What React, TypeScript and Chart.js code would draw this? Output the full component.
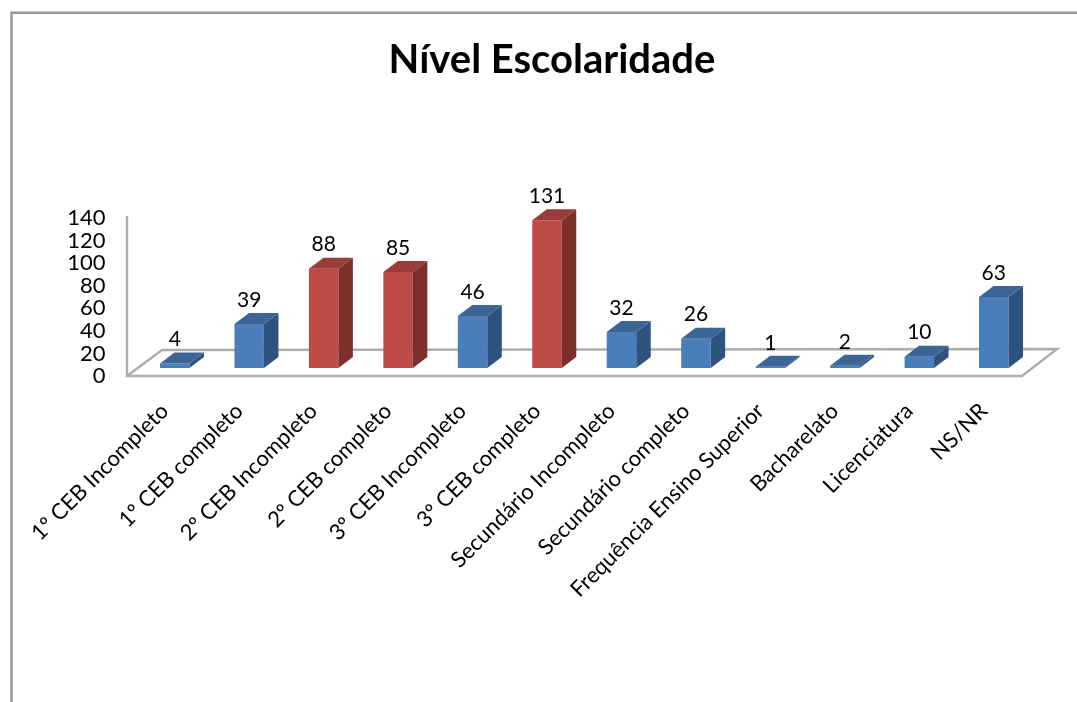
import React, { useEffect, useRef } from "react";
import { Chart, registerables } from "chart.js";

Chart.register(...registerables);

const titleText = "Nível Escolaridade";
const categories = [
  "1º CEB Incompleto",
  "1º CEB completo",
  "2º CEB Incompleto",
  "2º CEB completo",
  "3º CEB Incompleto",
  "3º CEB completo",
  "Secundário Incompleto",
  "Secundário completo",
  "Frequência Ensino Superior",
  "Bacharelato",
  "Licenciatura",
  "NS/NR",
];
const values = [4, 39, 88, 85, 46, 131, 32, 26, 1, 2, 10, 63];
const highlighted = [2, 3, 5];

const FONT = "Lato";
const BLUE = { front: "#4a7ebb", top: "#3c6595", side: "#2f5381" };
const RED = { front: "#be4b48", top: "#9a3c39", side: "#7c2f2d" };
const DEPTH_X = 14.5;
const DEPTH_Y = 11;
const FRONT_LIFT = 8;

const scene = {
  id: "scene",
  afterLayout(chart: any) {
    chart.scales.y.left = 50;
  },
  beforeDraw(chart: any) {
    const { ctx, width, height } = chart;
    ctx.save();
    ctx.fillStyle = "#fff";
    ctx.fillRect(0, 0, width, height);
    ctx.strokeStyle = "#979797";
    ctx.lineWidth = 2.4;
    ctx.beginPath();
    ctx.moveTo(11.5, height);
    ctx.lineTo(11.5, 12.8);
    ctx.lineTo(width, 12.8);
    ctx.stroke();
    ctx.restore();
  },
  beforeDatasetsDraw(chart: any) {
    const { ctx, chartArea: a } = chart;
    const left = a.left - 10.5;
    const right = a.right - 9;
    ctx.save();
    ctx.strokeStyle = "#adadad";
    ctx.lineWidth = 2.4;
    ctx.beginPath();
    ctx.moveTo(left, a.top - 2);
    ctx.lineTo(left, a.bottom);
    ctx.lineTo(right, a.bottom);
    ctx.lineTo(right + 35, a.bottom - 27);
    ctx.lineTo(left + 35, a.bottom - 26);
    ctx.lineTo(left, a.bottom);
    ctx.stroke();
    ctx.restore();
    ctx.save();
    ctx.translate(0, -FRONT_LIFT);
  },
  afterDatasetsDraw(chart: any) {
    const { ctx } = chart;
    const meta = chart.getDatasetMeta(0);
    meta.data.forEach((el: any, i: number) => {
      const p = highlighted.includes(i) ? RED : BLUE;
      const l = el.x - el.width / 2;
      const r = el.x + el.width / 2;
      ctx.fillStyle = p.side;
      ctx.beginPath();
      ctx.moveTo(r, el.y);
      ctx.lineTo(r + DEPTH_X, el.y - DEPTH_Y);
      ctx.lineTo(r + DEPTH_X, el.base - DEPTH_Y);
      ctx.lineTo(r, el.base);
      ctx.closePath();
      ctx.fill();
      ctx.fillStyle = p.top;
      ctx.beginPath();
      ctx.moveTo(l, el.y);
      ctx.lineTo(l + DEPTH_X, el.y - DEPTH_Y);
      ctx.lineTo(r + DEPTH_X, el.y - DEPTH_Y);
      ctx.lineTo(r, el.y);
      ctx.closePath();
      ctx.fill();
      ctx.fillStyle = "#000";
      ctx.font = `21px ${FONT}`;
      ctx.textAlign = "center";
      ctx.textBaseline = "middle";
      ctx.fillText(String(values[i]), el.x, el.y - 24);
    });
    ctx.restore();
  },
};

export default function App() {
  const ref = useRef<HTMLCanvasElement>(null);
  useEffect(() => {
    document.body.style.margin = "0";
    const chart = new Chart(ref.current as HTMLCanvasElement, {
      type: "bar",
      data: {
        labels: categories,
        datasets: [
          {
            data: values,
            backgroundColor: values.map((_, i) =>
              highlighted.includes(i) ? RED.front : BLUE.front
            ),
            barPercentage: 0.396,
            categoryPercentage: 1,
          },
        ],
      },
      plugins: [scene],
      options: {
        animation: false,
        responsive: false,
        layout: { padding: { left: 73, right: 46, top: 36, bottom: 0 } },
        plugins: {
          legend: { display: false },
          tooltip: { enabled: false },
          title: {
            display: true,
            text: titleText,
            color: "#000",
            font: { family: FONT, size: 40, weight: "bold" },
            padding: { top: 0, bottom: 134 },
          },
        },
        scales: {
          x: {
            grid: { display: false, drawTicks: false },
            border: { display: false },
            afterFit: (s: any) => {
              s.height = 326;
            },
            ticks: {
              autoSkip: false,
              minRotation: 45,
              maxRotation: 45,
              padding: 22,
              labelOffset: -10,
              color: "#000",
              font: { family: FONT, size: 22 },
            },
          },
          y: {
            min: 0,
            max: 140,
            grid: { display: false, drawTicks: false },
            border: { display: false },
            afterFit: (s: any) => {
              s.width = 64.5;
            },
            ticks: {
              autoSkip: false,
              stepSize: 20,
              padding: 32,
              color: "#000",
              font: { family: FONT, size: 22 },
            },
          },
        },
      },
    } as any);
    return () => chart.destroy();
  }, []);
  return <canvas ref={ref} width={1077} height={702} style={{ display: "block" }} />;
}
